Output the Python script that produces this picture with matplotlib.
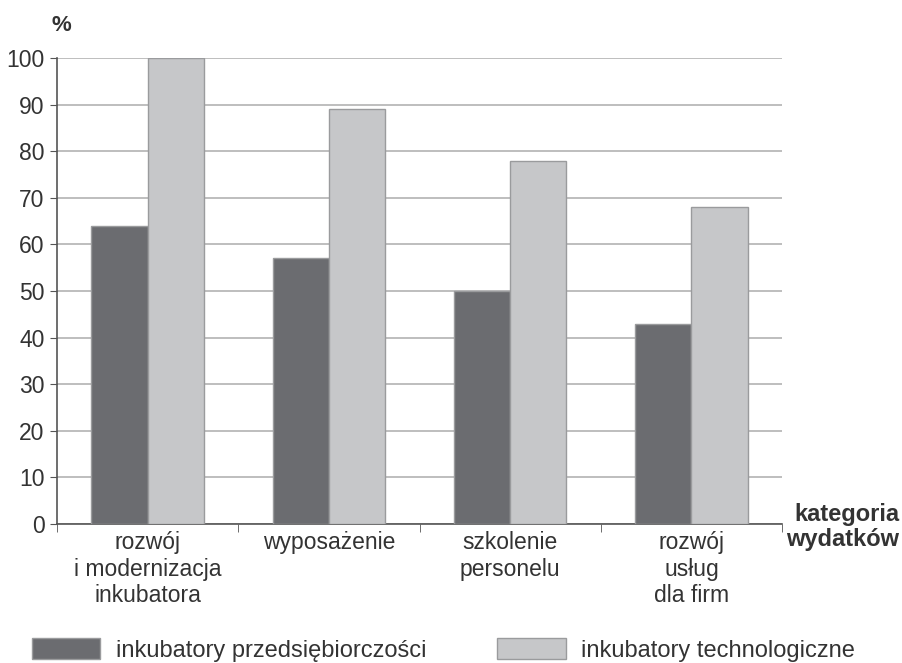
import matplotlib.pyplot as plt
import matplotlib.patches as mpatches
import numpy as np

categories = ["rozwój\ni modernizacja\ninkubatora", "wyposażenie",
              "szkolenie\npersonelu", "rozwój\nusług\ndla firm"]
przedsiebiorczosci = [64, 57, 50, 43]
technologiczne = [100, 89, 78, 68]
series_names = ["inkubatory przedsiębiorczości", "inkubatory technologiczne"]

dark = "#6b6c70"
light = "#c6c7c9"
edge = "#9a9b9d"

plt.rcParams['font.family'] = ['Liberation Sans', 'DejaVu Sans']

fig = plt.figure(figsize=(9.02, 6.63), dpi=100)
ax = fig.add_axes([0.0632, 0.2097, 0.8038, 0.7028])

x = np.arange(len(categories))
w = 0.31
ax.bar(x - w / 2, przedsiebiorczosci, w, color=dark, edgecolor=edge, linewidth=1, zorder=3)
ax.bar(x + w / 2, technologiczne, w, color=light, edgecolor=edge, linewidth=1, zorder=3)

ax.set_xlim(-0.5, len(categories) - 0.5)
ax.set_ylim(0, 100)
ax.set_yticks(range(0, 101, 10))
ax.tick_params(axis='y', labelsize=16.5, length=5, color="#555555", pad=4, labelcolor="#333333")
ax.yaxis.grid(True, color="#b3b3b3", linewidth=1.2, zorder=0)

ax.set_xticks(x)
ax.set_xticklabels(categories, fontsize=16.5, color="#333333", linespacing=1.2)
ax.tick_params(axis='x', length=0, pad=5)
ax.set_xticks(np.arange(-0.5, len(categories) + 0.5, 1), minor=True)
ax.tick_params(axis='x', which='minor', length=6, color="#555555")

for s in ['top', 'right']:
    ax.spines[s].set_visible(False)
ax.spines['left'].set_color("#555555")
ax.spines['bottom'].set_color("#555555")
ax.spines['left'].set_linewidth(1.2)
ax.spines['bottom'].set_linewidth(1.2)

fig.text(0.057, 0.962, "%", fontsize=16, fontweight='bold', color="#333333", ha='left', va='center')
fig.text(0.997, 0.205, "kategoria\nwydatków", fontsize=17, fontweight='bold', color="#333333",
         ha='right', va='center', linespacing=1.15)

handles = [mpatches.Patch(facecolor=dark, edgecolor=edge), mpatches.Patch(facecolor=light, edgecolor=edge)]
leg = fig.legend(handles, series_names, loc='lower left', bbox_to_anchor=(0.0355, 0.002), ncol=2,
                 frameon=False, fontsize=17, handlelength=2.9, handleheight=1.0, columnspacing=3.0,
                 handletextpad=0.65, borderpad=0, borderaxespad=0, labelcolor="#333333")

fig.savefig("out.png", dpi=100, facecolor="white")
